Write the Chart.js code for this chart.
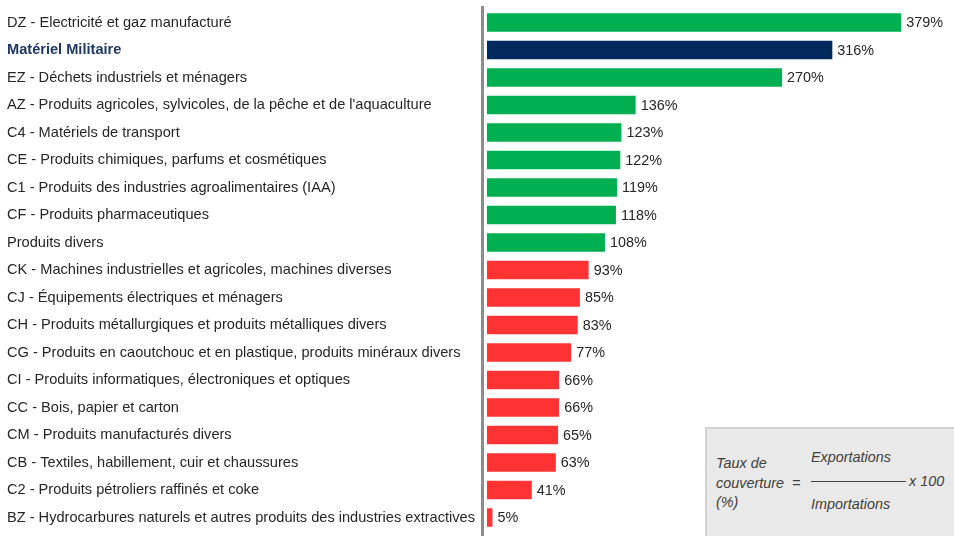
<!DOCTYPE html>
<html>
<head>
<meta charset="utf-8">
<script src="https://cdn.jsdelivr.net/npm/chart.js@4"></script>
<style>
  html, body { margin:0; padding:0; background:#fff; overflow:hidden; width:954px; height:536px; }
  #wrap { position:relative; width:954px; height:540px; }
  canvas { position:absolute; left:0; top:0; }
  #box { position:absolute; left:705px; top:427px; width:260px; height:130px; background:#E9E9E9; border:2px solid #D2D2D2; box-sizing:border-box; }
  .ft { position:absolute; font-family:"Liberation Sans", Arial, sans-serif; font-style:italic; font-size:14.4px; line-height:20px; color:#404040; white-space:nowrap; }
  #frac { position:absolute; left:811px; top:481px; width:95px; height:1px; background:#404040; }
</style>
</head>
<body>
<div id="wrap">
  <canvas id="c" width="954" height="540"></canvas>
  <div id="box"></div>
  <span class="ft" style="left:716px;top:453px;">Taux de</span>
  <span class="ft" style="left:716px;top:473px;">couverture</span>
  <span class="ft" style="left:716px;top:492px;">(%)</span>
  <span class="ft" style="left:792px;top:473px;">=</span>
  <span class="ft" style="left:811px;top:447px;">Exportations</span>
  <div id="frac"></div>
  <span class="ft" style="left:909px;top:471px;">x 100</span>
  <span class="ft" style="left:811px;top:494px;">Importations</span>
</div>
<script>
const categories = [
  "DZ - Electricité et gaz manufacturé",
  "Matériel Militaire",
  "EZ - Déchets industriels et ménagers",
  "AZ - Produits agricoles, sylvicoles, de la pêche et de l'aquaculture",
  "C4 - Matériels de transport",
  "CE - Produits chimiques, parfums et cosmétiques",
  "C1 - Produits des industries agroalimentaires (IAA)",
  "CF - Produits pharmaceutiques",
  "Produits divers",
  "CK - Machines industrielles et agricoles, machines diverses",
  "CJ - Équipements électriques et ménagers",
  "CH - Produits métallurgiques et produits métalliques divers",
  "CG - Produits en caoutchouc et en plastique, produits minéraux divers",
  "CI - Produits informatiques, électroniques et optiques",
  "CC - Bois, papier et carton",
  "CM - Produits manufacturés divers",
  "CB - Textiles, habillement, cuir et chaussures",
  "C2 - Produits pétroliers raffinés et coke",
  "BZ - Hydrocarbures naturels et autres produits des industries extractives"
];
const coverageRates = [379, 316, 270, 136, 123, 122, 119, 118, 108, 93, 85, 83, 77, 66, 66, 65, 63, 41, 5];
const highlightCategory = "Matériel Militaire";

const GREEN = "#00B050", NAVY = "#002A5E", RED = "#FF3333";
const barColors = categories.map((c, i) =>
  c === highlightCategory ? NAVY : (coverageRates[i] >= 100 ? GREEN : RED));

const valueLabels = {
  id: 'valueLabels',
  beforeDatasetsDraw(chart) {
    const ctx = chart.ctx, a = chart.chartArea;
    ctx.save();
    ctx.fillStyle = '#8C8C8C';
    ctx.fillRect(a.left - 6, 6, 3, chart.height);
    ctx.restore();
  },
  afterDatasetsDraw(chart) {
    const ctx = chart.ctx;
    const meta = chart.getDatasetMeta(0);
    ctx.save();
    ctx.font = '14.4px "Liberation Sans", Arial, sans-serif';
    ctx.fillStyle = '#262626';
    ctx.textAlign = 'left';
    ctx.textBaseline = 'middle';
    meta.data.forEach((bar, i) => {
      ctx.fillText(coverageRates[i] + '%', bar.x + 5, bar.y + 1);
    });
    ctx.restore();
  }
};

new Chart(document.getElementById('c'), {
  type: 'bar',
  data: {
    labels: categories,
    datasets: [{
      data: coverageRates,
      backgroundColor: barColors,
      borderWidth: 0,
      barPercentage: 0.68,
      categoryPercentage: 1
    }]
  },
  options: {
    indexAxis: 'y',
    responsive: false,
    animation: false,
    events: [],
    layout: { padding: { left: 7, right: 8, top: 8, bottom: 0 } },
    plugins: { legend: { display: false }, tooltip: { enabled: false } },
    scales: {
      x: {
        display: false,
        min: 0,
        max: 420
      },
      y: {
        grid: { display: false },
        border: { display: false },
        afterFit(scale) { scale.width = 480; },
        ticks: {
          crossAlign: 'far',
          padding: 0,
          autoSkip: false,
          color: (ctx) => categories[ctx.index] === highlightCategory ? '#1F3864' : '#262626',
          font: (ctx) => ({
            family: '"Liberation Sans", Arial, sans-serif',
            size: 14.6,
            weight: categories[ctx.index] === highlightCategory ? 'bold' : 'normal'
          })
        }
      }
    }
  },
  plugins: [valueLabels]
});
</script>
</body>
</html>
